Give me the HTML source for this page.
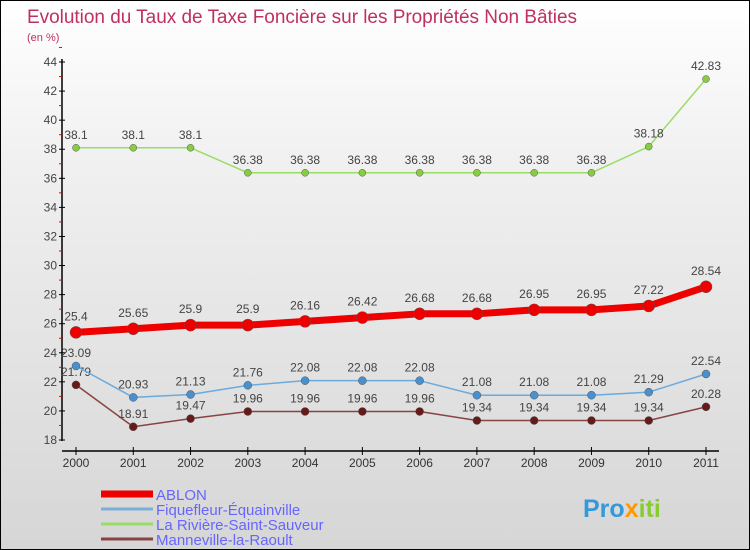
<!DOCTYPE html>
<html><head><meta charset="utf-8"><style>
body{margin:0}
#c{width:750px;height:550px;position:relative;box-sizing:border-box;border:1px solid #000;background:linear-gradient(#ffffff,#f0f0f0 30%,#d6d6d6);font-family:"Liberation Sans",sans-serif;overflow:hidden}
</style></head><body>
<div id="c">
<svg id="s" width="750" height="550" style="position:absolute;left:0;top:0">
<text x="26" y="22" font-size="19" fill="#c0305f" textLength="550">Evolution du Taux de Taxe Foncière sur les Propriétés Non Bâties</text>
<text x="26" y="40" font-size="11" fill="#c0305f">(en %)</text>
<g id="g"></g>
</svg>
</div>
<script>
const years=[2000,2001,2002,2003,2004,2005,2006,2007,2008,2009,2010,2011];
const yTicks=[18,20,22,24,26,28,30,32,34,36,38,40,42,44];
const ablon=[25.4,25.65,25.9,25.9,26.16,26.42,26.68,26.68,26.95,26.95,27.22,28.54];
const fiquefleur=[23.09,20.93,21.13,21.76,22.08,22.08,22.08,21.08,21.08,21.08,21.29,22.54];
const riviere=[38.1,38.1,38.1,36.38,36.38,36.38,36.38,36.38,36.38,36.38,38.18,42.83];
const manneville=[21.79,18.91,19.47,19.96,19.96,19.96,19.96,19.34,19.34,19.34,19.34,20.28];
const NS="http://www.w3.org/2000/svg";
const g=document.getElementById('g');
const xs=i=>75+i*(630/11);
const ys=v=>439-(v-18)*(378/26);
function el(t,a){const e=document.createElementNS(NS,t);for(const k in a)e.setAttribute(k,a[k]);g.appendChild(e);return e;}
let e;
e=el('line',{x1:61,y1:58,x2:61,y2:440,stroke:'#000','stroke-width':1.5});


e=el('line',{x1:61,y1:450,x2:718,y2:450,stroke:'#000','stroke-width':1.5});


yTicks.forEach(v=>{
 const y=ys(v);
 el('line',{x1:58,y1:y,x2:64,y2:y,stroke:'#000'});
 el('line',{x1:58,y1:ys(v+1),x2:61,y2:ys(v+1),stroke:'#e00'});
 const t=el('text',{x:56,y:y+4,'text-anchor':'end','font-size':12,fill:'#444'});
 t.textContent=v;
 
 
});
years.forEach((yr,i)=>{
 el('line',{x1:xs(i),y1:446,x2:xs(i),y2:454,stroke:'#000'});
 const t=el('text',{x:xs(i),y:466,'text-anchor':'middle','font-size':12,fill:'#333'});
 t.textContent=yr;
 
 
});
function series(d,col,w,r,name,lblOff,ptCol){
 const p=el('polyline',{points:d.map((v,i)=>xs(i)+','+ys(v)).join(' '),fill:'none',stroke:col,'stroke-width':w,'stroke-linejoin':'round'});
 
 
 d.forEach((v,i)=>{
  const c=el('circle',{cx:xs(i),cy:ys(v),r:r,fill:ptCol||col,stroke:'#555','stroke-width':0.5});
  
  
  const t=el('text',{x:xs(i),y:ys(v)+lblOff,'text-anchor':'middle','font-size':12,fill:'#444'});
  t.textContent=v;
  
  
 });
}
series(riviere,'#99dd66',1.5,3.5,'riviere',-9,'#88cc44');
series(manneville,'#884444',1.5,4,'manneville',-9,'#661a1a');
series(fiquefleur,'#6aaadd',1.5,4,'fiquefleur',-9,'#4a90cc');
series(ablon,'#ee0000',7,6,'ablon',-12,'#ee0000');
const leg=[['ABLON','#ee0000',7],['Fiquefleur-Équainville','#7aaed6',3],['La Rivière-Saint-Sauveur','#99dd66',3],['Manneville-la-Raoult','#884444',3]];
leg.forEach((l,i)=>{
 const y=493+i*15;
 const ln=el('line',{x1:100,y1:y,x2:152,y2:y,stroke:l[1],'stroke-width':l[2]});
 
 
 const t=el('text',{x:155,y:y+6,'font-size':15,fill:'#6666ff'});
 t.textContent=l[0];
 
 
});
const lg=el('text',{x:582,y:516,'font-size':25,'font-weight':'bold',fill:'#3399dd'});
lg.innerHTML='Pro<tspan fill="#ff9900">x</tspan><tspan fill="#88cc33">iti</tspan>';


</script>
</body></html>
